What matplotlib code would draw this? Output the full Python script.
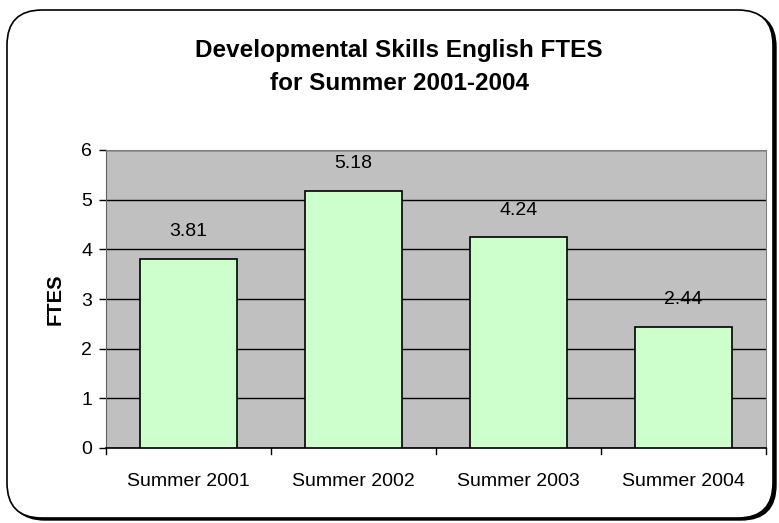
import matplotlib.pyplot as plt
from matplotlib.patches import FancyBboxPatch

categories = ["Summer 2001", "Summer 2002", "Summer 2003", "Summer 2004"]
ftes = [3.81, 5.18, 4.24, 2.44]
yticks = [0, 1, 2, 3, 4, 5, 6]

plt.rcParams['font.family'] = ['Liberation Sans', 'DejaVu Sans']

fig = plt.figure(figsize=(7.79, 5.23), dpi=100)
W, H = 779, 523

# rounded border with shadow
shadow = FancyBboxPatch((10 / W, 3 / H), 766 / W, 508 / H,
                        boxstyle="round,pad=0,rounding_size=0.045",
                        transform=fig.transFigure, facecolor='black',
                        edgecolor='black', mutation_aspect=W / H, zorder=0)
frame = FancyBboxPatch((7 / W, 5 / H), 766 / W, 508 / H,
                       boxstyle="round,pad=0,rounding_size=0.045",
                       transform=fig.transFigure, facecolor='white',
                       edgecolor='black', linewidth=1.2,
                       mutation_aspect=W / H, zorder=1)
fig.patches.extend([shadow, frame])

ax = fig.add_axes([106 / W, (H - 448) / H, (766 - 106) / W, (448 - 150) / H])
ax.set_zorder(2)
ax.set_facecolor('#C0C0C0')

x = range(len(categories))
bars = ax.bar(x, ftes, width=0.59, color='#CCFFCC', edgecolor='black',
              linewidth=1.2, zorder=3)
for xi, v in zip(x, ftes):
    ax.text(xi, v + 0.37, f"{v:.2f}", ha='center', va='bottom', fontsize=14)

ax.set_xlim(-0.5, 3.5)
ax.set_ylim(0, 6)
ax.set_yticks(yticks)
ax.set_yticklabels([str(t) for t in yticks], fontsize=14)
ax.set_xticks(x)
ax.set_xticklabels(categories, fontsize=14)
ax.tick_params(axis='x', length=0, pad=18)
ax.tick_params(axis='y', length=5, width=1, direction='out', pad=5)
for b in [-0.5, 0.5, 1.5, 2.5, 3.5]:
    ax.plot([b, b], [0, -0.12], color='black', lw=1, clip_on=False, zorder=4)

ax.yaxis.grid(True, color='black', linewidth=1)
ax.set_axisbelow(True)
for s in ['top', 'right']:
    ax.spines[s].set_color('#808080')
ax.spines['left'].set_color('#606060')
ax.spines['bottom'].set_color('black')
ax.spines['bottom'].set_linewidth(1.2)

ax.set_ylabel("FTES", fontsize=14.5, fontweight='bold', labelpad=12)

fig.text(399 / W, (H - 67) / H, "Developmental Skills English FTES\nfor Summer 2001-2004",
         ha='center', va='center', fontsize=17.5, fontweight='bold',
         linespacing=1.5)

fig.savefig("out.png", dpi=100)
